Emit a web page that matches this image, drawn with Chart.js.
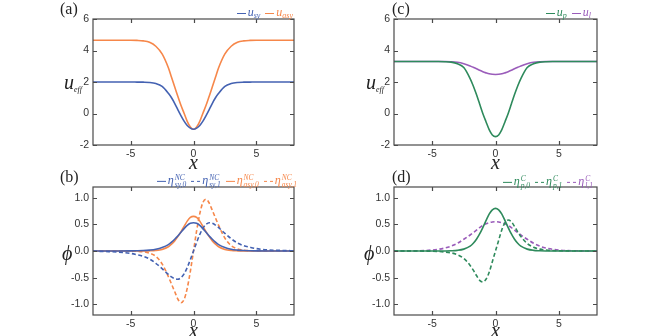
<!DOCTYPE html>
<html>
<head>
<meta charset="utf-8">
<script src="https://cdn.jsdelivr.net/npm/chart.js@4.4.0/dist/chart.umd.min.js"></script>
<style>
  html, body { margin:0; padding:0; background:#fff; }
  #wrap { position:relative; width:664px; height:336px; overflow:hidden; }
  canvas { position:absolute; }
  .lbl { position:absolute; font-family:'Liberation Serif','DejaVu Serif',serif; color:#222; white-space:nowrap; line-height:1; }
  .panel { font-size:16px; }
  .ax { font-style:italic; font-size:20px; transform:translateY(-50%); }
  .ax sub { font-size:8px; vertical-align:-3px; }
  .xl { transform:translate(-50%,-50%); }
  .legend { position:absolute; display:flex; align-items:center; transform:translateY(-50%);
            font-family:'Liberation Serif','DejaVu Serif',serif; font-style:italic; font-size:12px; line-height:1; white-space:nowrap; }
  .legend .item { display:flex; align-items:center; margin-left:5px; }
  .legend .swatch { width:9px; height:0; border-top:1.5px solid; margin-right:2px; }
  .legend .swatch.dash { border-top-style:dashed; }
  .legend .nm { display:inline-block; }
  .legend sub { font-size:8px; vertical-align:-2px; }
  .ss { display:inline-flex; flex-direction:column; vertical-align:middle; font-size:7.5px; line-height:7px; margin-left:1px; }
</style>
</head>
<body>
<div id="wrap"></div>
<script>
// ── Data ─────────────────────────────────────────────────────
const X = [-8,-7,-6,-5,-4.5,-4,-3.5,-3,-2.5,-2,-1.75,-1.5,-1.25,-1,-0.75,-0.5,-0.25,
           0,0.25,0.5,0.75,1,1.25,1.5,1.75,2,2.5,3,3.5,4,4.5,5,6,7,8];

const X_TICKS   = [-5, 0, 5];
const U_TICKS   = [-2, 0, 2, 4, 6];
const PHI_TICKS = [-1, -0.5, 0, 0.5, 1];

// (a) effective potentials
const U_SY  = [2,2,2,2,1.995,1.99,1.97,1.90,1.72,1.28,1.0,0.65,0.25,-0.13,-0.48,-0.76,-0.93,
               -1.0,-0.93,-0.76,-0.48,-0.13,0.25,0.65,1.0,1.28,1.72,1.90,1.97,1.99,1.995,2,2,2,2];
const U_ASY = [4.65,4.65,4.65,4.65,4.64,4.61,4.52,4.27,3.78,2.9,2.3,1.7,1.1,0.52,0.02,-0.5,-0.86,
               -1.0,-0.86,-0.5,0.02,0.52,1.1,1.7,2.3,2.9,3.78,4.27,4.52,4.61,4.64,4.65,4.65,4.65,4.65];

// (c)
const U_P = [3.3,3.3,3.3,3.3,3.3,3.29,3.26,3.16,2.92,2.22,1.75,1.2,0.6,0.0,-0.52,-1.02,-1.36,
             -1.47,-1.36,-1.02,-0.52,0.0,0.6,1.2,1.75,2.22,2.92,3.16,3.26,3.29,3.3,3.3,3.3,3.3,3.3];
const U_L = [3.3,3.3,3.3,3.3,3.3,3.3,3.29,3.25,3.16,3.02,2.93,2.84,2.74,2.65,2.58,2.52,2.49,
             2.48,2.49,2.52,2.58,2.65,2.74,2.84,2.93,3.02,3.16,3.25,3.29,3.3,3.3,3.3,3.3,3.3,3.3];

// (b) modes
const ETA_SY0  = [0,0,0,0.002,0.004,0.008,0.017,0.033,0.065,0.12,0.165,0.22,0.28,0.35,0.42,0.48,0.52,
                  0.53,0.52,0.48,0.42,0.35,0.28,0.22,0.165,0.12,0.065,0.033,0.017,0.008,0.004,0.002,0,0,0];
const ETA_SY1  = [-0.004,-0.01,-0.02,-0.045,-0.07,-0.1,-0.15,-0.23,-0.33,-0.44,-0.485,-0.52,-0.53,-0.5,-0.43,-0.31,-0.16,
                  0,0.16,0.31,0.43,0.5,0.53,0.52,0.485,0.44,0.33,0.23,0.15,0.1,0.07,0.045,0.02,0.01,0.004];
const ETA_ASY0 = [0,0,0,0,0,0.001,0.003,0.01,0.03,0.08,0.13,0.19,0.27,0.36,0.46,0.56,0.63,
                  0.65,0.63,0.56,0.46,0.36,0.27,0.19,0.13,0.08,0.03,0.01,0.003,0.001,0,0,0,0,0];
const ETA_ASY1 = [0,0,0,-0.002,-0.005,-0.014,-0.04,-0.1,-0.24,-0.48,-0.62,-0.76,-0.9,-0.97,-0.91,-0.7,-0.38,
                  0,0.38,0.7,0.91,0.97,0.9,0.76,0.62,0.48,0.24,0.1,0.04,0.014,0.005,0.002,0,0,0];

// (d)
const ETA_P0 = [0,0,0,0,0,0.001,0.004,0.012,0.035,0.09,0.145,0.22,0.32,0.44,0.57,0.69,0.77,
                0.8,0.77,0.69,0.57,0.44,0.32,0.22,0.145,0.09,0.035,0.012,0.004,0.001,0,0,0,0,0];
const ETA_P1 = [0,0,-0.001,-0.004,-0.009,-0.018,-0.035,-0.07,-0.14,-0.27,-0.36,-0.46,-0.55,-0.58,-0.53,-0.4,-0.2,
                0,0.2,0.4,0.53,0.58,0.55,0.46,0.36,0.27,0.14,0.07,0.035,0.018,0.009,0.004,0.001,0,0];
const ETA_L1 = [0,0.001,0.005,0.018,0.032,0.055,0.09,0.145,0.22,0.3,0.345,0.39,0.44,0.48,0.51,0.53,0.545,
                0.55,0.545,0.53,0.51,0.48,0.44,0.39,0.345,0.3,0.22,0.145,0.09,0.055,0.032,0.018,0.005,0.001,0];

const BLUE   = '#4462b2';
const ORANGE = '#f6874a';
const GREEN  = '#2e8a5c';
const PURPLE = '#9a5cba';

// ── Panels ───────────────────────────────────────────────────
const PANELS = [
  { tag:'(a)', left:0,   top:0,   pad:{left:53, right:38, top:19, bottom:3}, yMin:-2,   yMax:6,   yTicks:U_TICKS,   yFmt:v => String(v),
    ylab:'u<sub>eff</sub>', ylabX:64, ylabY:83, legendRight:293, legendY:13,
    series:[ { name:'u<sub>sy</sub>', data:U_SY, color:BLUE }, { name:'u<sub>asy</sub>', data:U_ASY, color:ORANGE } ] },
  { tag:'(c)', left:332, top:0,   pad:{left:22, right:67, top:19, bottom:3}, yMin:-2,   yMax:6,   yTicks:U_TICKS,   yFmt:v => String(v),
    ylab:'u<sub>eff</sub>', ylabX:366, ylabY:83, legendRight:591, legendY:13,
    series:[ { name:'u<sub>p</sub>', data:U_P, color:GREEN }, { name:'u<sub>l</sub>', data:U_L, color:PURPLE } ] },
  { tag:'(b)', left:0,   top:168, pad:{left:53, right:38, top:19, bottom:1}, yMin:-1.2, yMax:1.2, yTicks:PHI_TICKS, yFmt:v => v.toFixed(1),
    ylab:'ϕ', ylabX:62, ylabY:253, legendRight:297, legendY:181,
    series:[
      { name:eta('NC','sy,0'),  data:ETA_SY0,  color:BLUE },
      { name:eta('NC','sy,1'),  data:ETA_SY1,  color:BLUE,   dash:true },
      { name:eta('NC','asy,0'), data:ETA_ASY0, color:ORANGE },
      { name:eta('NC','asy,1'), data:ETA_ASY1, color:ORANGE, dash:true } ] },
  { tag:'(d)', left:332, top:168, pad:{left:22, right:67, top:19, bottom:1}, yMin:-1.2, yMax:1.2, yTicks:PHI_TICKS, yFmt:v => v.toFixed(1),
    ylab:'ϕ', ylabX:364, ylabY:253, legendRight:593, legendY:182,
    series:[
      { name:eta('C','p,0'), data:ETA_P0, color:GREEN },
      { name:eta('C','p,1'), data:ETA_P1, color:GREEN,  dash:true },
      { name:eta('C','l,1'), data:ETA_L1, color:PURPLE, dash:true } ] },
];

function eta(sup, sub) {
  return `η<span class="ss"><span>${sup}</span><span>${sub}</span></span>`;
}

// ── Frame with inward ticks on all four sides ────────────────
const framePlugin = {
  id: 'frame',
  afterDraw(chart) {
    const { ctx, chartArea: a, scales: { x, y } } = chart;
    const L = 4;
    ctx.save();
    ctx.strokeStyle = '#4a4a4a';
    ctx.lineWidth = 1.2;
    ctx.strokeRect(a.left, a.top, a.right - a.left, a.bottom - a.top);
    ctx.beginPath();
    x.ticks.forEach(t => {
      const px = Math.round(x.getPixelForValue(t.value)) + 0.5;
      ctx.moveTo(px, a.bottom); ctx.lineTo(px, a.bottom - L);
      ctx.moveTo(px, a.top);    ctx.lineTo(px, a.top + L);
    });
    y.ticks.forEach(t => {
      const py = Math.round(y.getPixelForValue(t.value)) + 0.5;
      ctx.moveTo(a.left, py);  ctx.lineTo(a.left + L, py);
      ctx.moveTo(a.right, py); ctx.lineTo(a.right - L, py);
    });
    ctx.stroke();
    ctx.restore();
  }
};

// ── Build ────────────────────────────────────────────────────
const wrap = document.getElementById('wrap');
const TICK_FONT = { family:"'Liberation Sans', Arial, sans-serif", size:10.5 };

PANELS.forEach(p => {
  const cv = document.createElement('canvas');
  cv.width = 332; cv.height = 168;
  cv.style.left = p.left + 'px'; cv.style.top = p.top + 'px';
  wrap.appendChild(cv);

  new Chart(cv, {
    type: 'line',
    data: {
      datasets: p.series.map(s => ({
        data: X.map((x, i) => ({ x, y: s.data[i] })),
        borderColor: s.color,
        borderWidth: 1.6,
        borderDash: s.dash ? [4, 2.5] : [],
        pointRadius: 0,
        cubicInterpolationMode: 'monotone',
        fill: false,
      }))
    },
    options: {
      responsive: false, animation: false,
      layout: { padding: p.pad },
      plugins: { legend: { display: false }, tooltip: { enabled: false } },
      scales: {
        x: {
          type: 'linear', min: -8, max: 8,
          afterBuildTicks: s => { s.ticks = X_TICKS.map(v => ({ value: v })); },
          afterFit: s => { s.height = 20; },
          grid: { display: false, drawTicks: false }, border: { display: false },
          ticks: { color: '#333', font: TICK_FONT, padding: 3, maxRotation: 0, callback: v => String(v) }
        },
        y: {
          type: 'linear', min: p.yMin, max: p.yMax,
          afterBuildTicks: s => { s.ticks = p.yTicks.map(v => ({ value: v })); },
          afterFit: s => { s.width = 40; },
          grid: { display: false, drawTicks: false }, border: { display: false },
          ticks: { color: '#333', font: TICK_FONT, padding: 4, callback: p.yFmt }
        }
      }
    },
    plugins: [framePlugin]
  });

  // panel tag
  addLabel(`<span>${p.tag}</span>`, 'lbl panel', p.left + 60, p.top + 1);
  // y label (horizontal)
  addLabel(p.ylab, 'lbl ax', p.ylabX, p.ylabY);
  // x label
  const cx = p.left + p.pad.left + 40 + (332 - p.pad.left - 40 - p.pad.right) / 2;
  addLabel('x', 'lbl ax xl', cx, p.top + 162);

  // legend
  const lg = document.createElement('div');
  lg.className = 'legend';
  lg.style.right = (664 - p.legendRight) + 'px';
  lg.style.top = p.legendY + 'px';
  lg.innerHTML = p.series.map(s =>
    `<span class="item" style="color:${s.color}"><span class="swatch${s.dash ? ' dash' : ''}" style="border-color:${s.color}"></span><span class="nm">${s.name}</span></span>`
  ).join('');
  wrap.appendChild(lg);
});

function addLabel(html, cls, x, y) {
  const d = document.createElement('div');
  d.className = cls;
  d.style.left = x + 'px';
  d.style.top = y + 'px';
  d.innerHTML = html;
  wrap.appendChild(d);
}
</script>
</body>
</html>
